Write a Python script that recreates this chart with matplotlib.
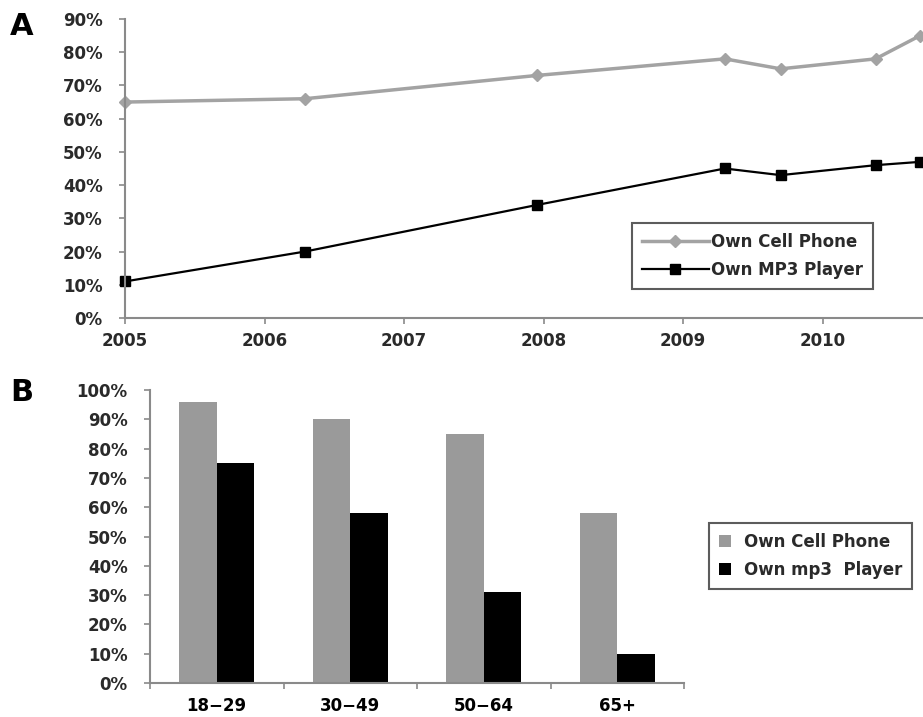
import numpy as np
import matplotlib
matplotlib.use("Agg")
import matplotlib.pyplot as plt
from matplotlib.ticker import PercentFormatter

# panel A: survey dates (decimal years) and ownership in %
survey_year = [2005.0, 2006.29, 2007.95, 2009.30, 2009.70, 2010.38, 2010.70]
cell_phone = [65, 66, 73, 78, 75, 78, 85]
mp3_player = [11, 20, 34, 45, 43, 46, 47]
year_ticks = [2005, 2006, 2007, 2008, 2009, 2010]

# panel B: ownership by age group
age_groups = ["18\u221229", "30\u221249", "50\u221264", "65+"]
cell_by_age = [96, 90, 85, 58]
mp3_by_age = [75, 58, 31, 10]

grey_line = "#a3a3a3"
grey_bar = "#9a9a9a"
axis_col = "#8a8a8a"
txt_col = "#2a2a2a"

plt.rcParams['font.family'] = ['DejaVu Sans']

fig = plt.figure(figsize=(9.23, 7.17), dpi=100)


def style_axes(ax):
    for s in ["top", "right"]:
        ax.spines[s].set_visible(False)
    for s in ["left", "bottom"]:
        ax.spines[s].set_color(axis_col)
        ax.spines[s].set_linewidth(1.5)
    ax.tick_params(colors=axis_col, labelcolor=txt_col, length=4, width=1.2,
                   labelsize=12)
    ax.tick_params(axis="y", pad=12)
    for lab in ax.get_xticklabels() + ax.get_yticklabels():
        lab.set_fontweight("bold")


# ---- A ----
axA = fig.add_axes([125 / 923, 1 - 318 / 717, (962 - 125) / 923, 299 / 717])
axA.plot(survey_year, cell_phone, color=grey_line, lw=2.5, marker="D",
         ms=6, label="Own Cell Phone", clip_on=False)
axA.plot(survey_year, mp3_player, color="black", lw=1.6, marker="s",
         ms=7, label="Own MP3 Player", clip_on=False)
axA.set_xlim(2005, 2011)
axA.set_ylim(0, 90)
axA.set_xticks(year_ticks)
axA.set_yticks(np.arange(0, 91, 10))
axA.yaxis.set_major_formatter(PercentFormatter(decimals=0))
style_axes(axA)
axA.tick_params(axis="x", pad=6)
legA = axA.legend(loc="upper left", bbox_to_anchor=(632 / 923, 1 - 223 / 717),
                  bbox_transform=fig.transFigure, frameon=True, fancybox=False,
                  edgecolor="#333333", borderaxespad=0,
                  prop={"size": 12, "weight": "bold"}, handlelength=4.0,
                  borderpad=0.6, labelspacing=0.6, handletextpad=0.15)
legA.get_frame().set_linewidth(1.5)
for t in legA.get_texts():
    t.set_color(txt_col)

# ---- B ----
axB = fig.add_axes([150 / 923, 1 - 683 / 717, (684 - 150) / 923, 293 / 717])
x = np.arange(len(age_groups))
w = 0.28
axB.bar(x - w / 2, cell_by_age, w, color=grey_bar, label="Own Cell Phone")
axB.bar(x + w / 2, mp3_by_age, w, color="black", label="Own mp3  Player")
axB.set_xlim(-0.5, len(age_groups) - 0.5)
axB.set_ylim(0, 100)
axB.set_yticks(np.arange(0, 101, 10))
axB.yaxis.set_major_formatter(PercentFormatter(decimals=0))
axB.set_xticks(np.arange(-0.5, len(age_groups), 1.0))
axB.set_xticklabels([])
axB.set_xticks(x, minor=True)
axB.set_xticklabels(age_groups, minor=True)
style_axes(axB)
axB.tick_params(axis="x", which="minor", length=0, pad=10, labelsize=12)
for lab in axB.get_xticklabels(minor=True):
    lab.set_fontweight("bold")
legB = axB.legend(loc="upper left", bbox_to_anchor=(709 / 923, 1 - 523 / 717),
                  bbox_transform=fig.transFigure, frameon=True, fancybox=False,
                  edgecolor="#333333", borderaxespad=0,
                  prop={"size": 12, "weight": "bold"}, handlelength=0.7,
                  handleheight=0.7, borderpad=0.6, labelspacing=0.6,
                  handletextpad=0.8)
legB.get_frame().set_linewidth(1.5)
for t in legB.get_texts():
    t.set_color(txt_col)

fig.text(10 / 923, 1 - 12 / 717, "A", fontsize=22, fontweight="bold",
         va="top", ha="left")
fig.text(10 / 923, 1 - 378 / 717, "B", fontsize=22, fontweight="bold",
         va="top", ha="left")

fig.savefig("out.png", dpi=100)
